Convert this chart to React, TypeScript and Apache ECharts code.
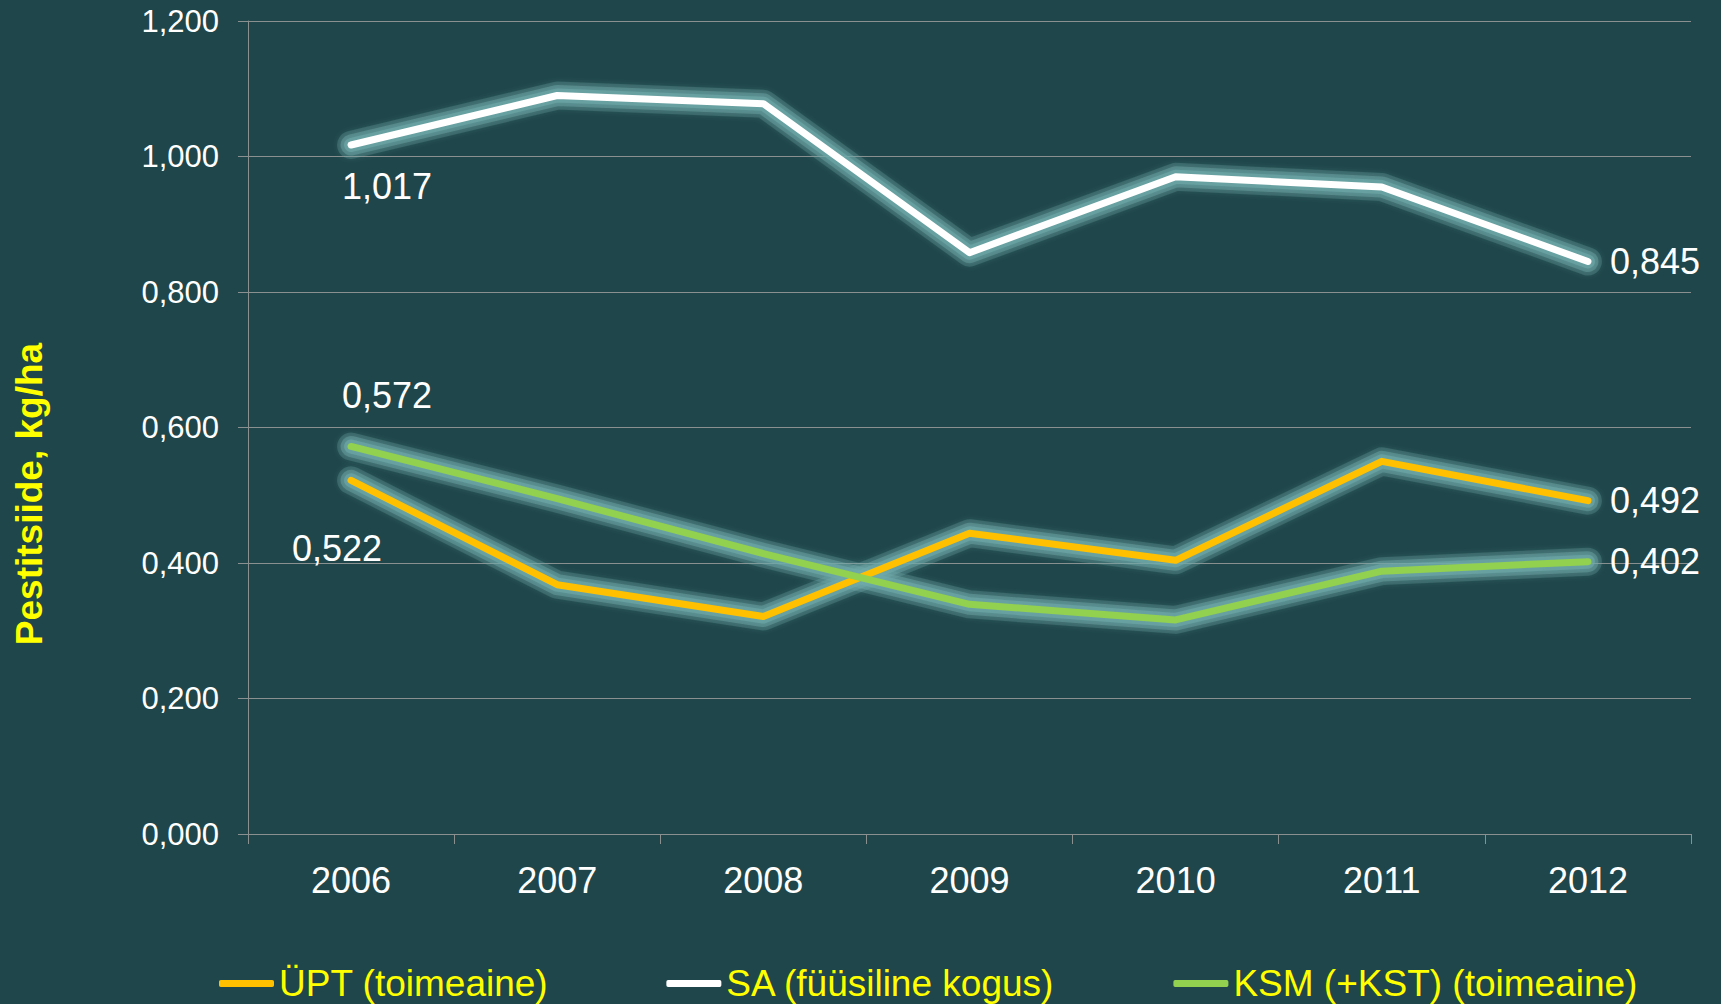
import React, { useEffect, useRef } from "react";
import * as echarts from "echarts";

const years = ["2006", "2007", "2008", "2009", "2010", "2011", "2012"];
const upt = [0.522, 0.368, 0.321, 0.444, 0.404, 0.55, 0.492];
const sa = [1.017, 1.09, 1.078, 0.858, 0.97, 0.955, 0.845];
const ksm = [0.572, 0.495, 0.414, 0.339, 0.316, 0.388, 0.402];
const seriesNames = ["ÜPT (toimeaine)", "SA (füüsiline kogus)", "KSM (+KST) (toimeaine)"];
const seriesColors = ["#FFC000", "#FFFFFF", "#92D050"];
const yTicks = { min: 0, max: 1.2, interval: 0.2 };

const FONT = "'Liberation Sans', Arial, sans-serif";
const fmt = (v: number) => v.toFixed(3).replace(".", ",");

function withLabels(values: number[], first: any, last: any) {
  return values.map((v, i) => {
    if (i === 0) return { value: v, label: { show: true, ...first } };
    if (i === values.length - 1) return { value: v, label: { show: true, ...last } };
    return { value: v };
  });
}

export default function App() {
  const ref = useRef<HTMLDivElement>(null);
  useEffect(() => {
    if (!ref.current) return;
    const chart = echarts.init(ref.current, undefined, { renderer: "svg" });
    const labelBase = {
      color: "#ffffff",
      fontSize: 36,
      fontFamily: FONT,
      formatter: (p: any) => fmt(p.value),
    };
    const rightLabel = { position: "right", distance: 22, align: "left", verticalAlign: "middle" };
    const mk = (name: string, data: any[], color: string, z: number) => ({
      name,
      type: "line",
      data,
      symbol: "circle",
      symbolSize: 0.1,
      showSymbol: true,
      itemStyle: { color },
      lineStyle: { color, width: 7, cap: "round", join: "round" },
      label: { show: false, ...labelBase },
      emphasis: { disabled: true },
      z,
    });
    const glowSeries = (values: number[], width: number, alpha: number, z: number) => ({
      name: "glow",
      type: "line",
      data: values,
      symbol: "none",
      silent: true,
      lineStyle: {
        color: `rgba(112,170,170,${alpha})`,
        width,
        cap: "round",
        join: "round",
        shadowColor: `rgba(112,170,170,${alpha})`,
        shadowBlur: 8,
      },
      emphasis: { disabled: true },
      tooltip: { show: false },
      z,
    });
    const glows: any[] = [];
    [upt, sa, ksm].forEach((vals) => {
      glows.push(glowSeries(vals, 28, 0.28, 1));
      glows.push(glowSeries(vals, 21, 0.42, 1));
      glows.push(glowSeries(vals, 14, 0.62, 1));
    });
    chart.setOption({
      animation: false,
      backgroundColor: "#1F464A",
      textStyle: { fontFamily: FONT },
      grid: { left: 248, right: 30, top: 21, bottom: 170, containLabel: false },
      legend: {
        data: seriesNames.map((n, i) => ({ name: n, itemStyle: { color: seriesColors[i] } })),
        left: 214,
        top: 960,
        icon: "roundRect",
        itemWidth: 55,
        itemHeight: 7,
        itemGap: 118,
        textStyle: { color: "#FFFF00", fontSize: 37, fontFamily: FONT },
      },
      xAxis: {
        type: "category",
        data: years,
        boundaryGap: true,
        axisLine: { show: true, lineStyle: { color: "#8a8f8f", width: 1 } },
        axisTick: { show: true, length: 10, lineStyle: { color: "#8a8f8f" } },
        axisLabel: { color: "#ffffff", fontSize: 36, fontFamily: FONT, margin: 28 },
        splitLine: { show: false },
      },
      yAxis: {
        type: "value",
        min: yTicks.min,
        max: yTicks.max,
        interval: yTicks.interval,
        axisLine: { show: true, lineStyle: { color: "#8a8f8f", width: 1 } },
        axisTick: { show: true, length: 10, lineStyle: { color: "#8a8f8f" } },
        axisLabel: { color: "#ffffff", fontSize: 31, fontFamily: FONT, margin: 29, formatter: (v: number) => fmt(v) },
        splitLine: { show: true, lineStyle: { color: "#8a8f8f", width: 1 } },
      },
      graphic: [
        {
          type: "text",
          x: 29,
          y: 494,
          rotation: Math.PI / 2,
          style: {
            text: "Pestitsiide, kg/ha",
            fill: "#FFFF00",
            font: `bold 37px ${FONT}`,
            align: "center",
            verticalAlign: "middle",
          },
        },
      ],
      series: [
        ...glows,
        mk(
          seriesNames[0],
          withLabels(
            upt,
            { position: "inside", offset: [-14, 68], align: "center", verticalAlign: "middle" },
            rightLabel
          ),
          seriesColors[0],
          3
        ),
        mk(
          seriesNames[1],
          withLabels(
            sa,
            { position: "inside", offset: [36, 42], align: "center", verticalAlign: "middle" },
            rightLabel
          ),
          seriesColors[1],
          3
        ),
        mk(
          seriesNames[2],
          withLabels(
            ksm,
            { position: "inside", offset: [36, -51], align: "center", verticalAlign: "middle" },
            rightLabel
          ),
          seriesColors[2],
          3
        ),
      ],
    });
    return () => chart.dispose();
  }, []);
  return (
    <div
      ref={ref}
      style={{ position: "absolute", left: 0, top: 0, width: 1721, height: 1004, background: "#1F464A" }}
    />
  );
}
